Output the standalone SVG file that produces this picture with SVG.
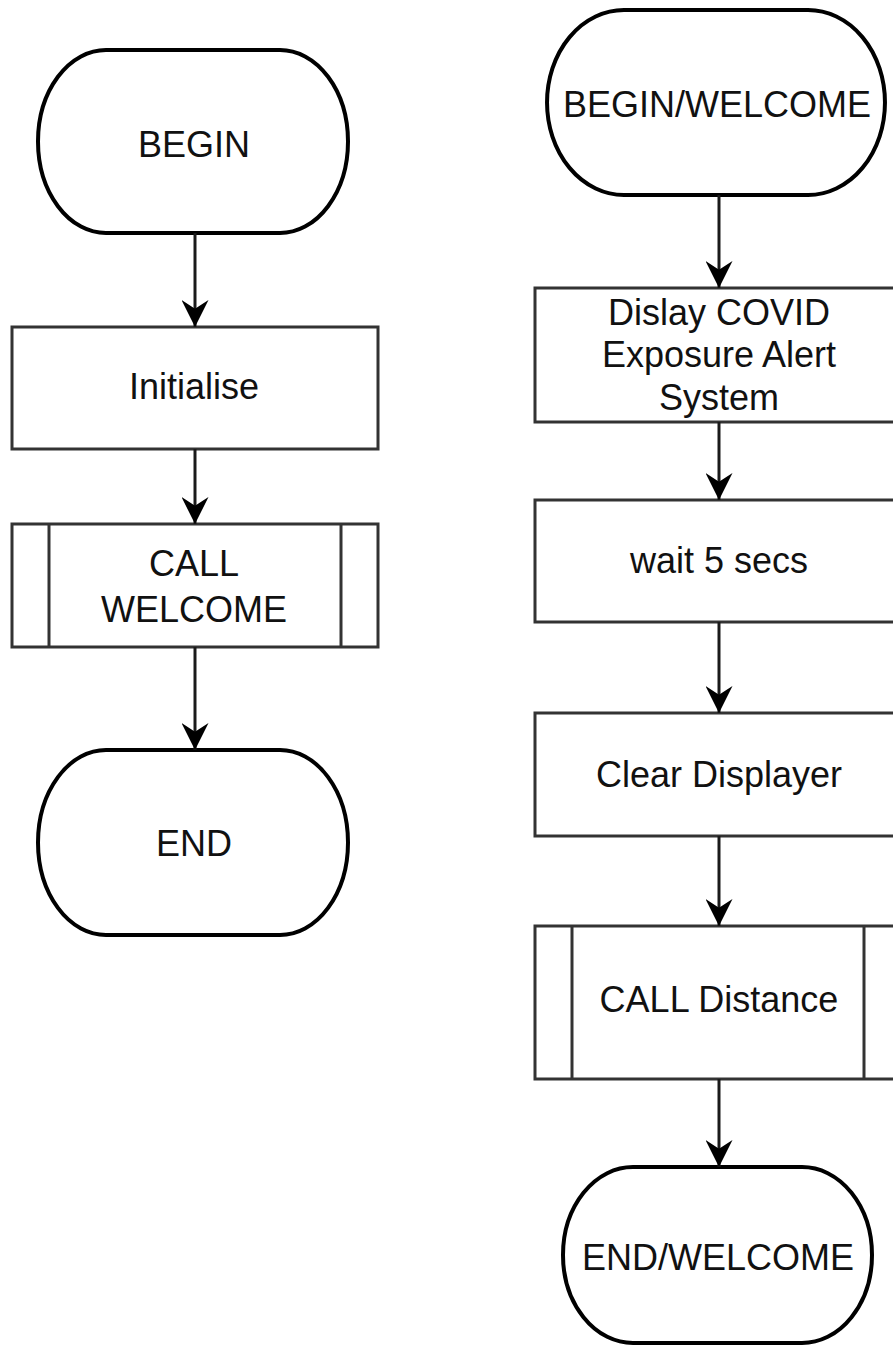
<svg xmlns="http://www.w3.org/2000/svg" width="893" height="1348" viewBox="0 0 893 1348">
  <style>
    .term { fill: #fff; stroke: #000; stroke-width: 4; }
    .box { fill: #fff; stroke: #333; stroke-width: 3; }
    .bar { stroke: #333; stroke-width: 3; }
    .lbl { font-family: "Liberation Sans", Arial, Helvetica, sans-serif; font-size: 36px; fill: #111; text-anchor: middle; }
    .flow { stroke: #1a1a1a; stroke-width: 3; fill: none; marker-end: url(#head); }
  </style>
  <defs>
    <marker id="head" markerUnits="userSpaceOnUse" viewBox="0 0 28 28" refX="28" refY="14" markerWidth="28" markerHeight="27" orient="auto">
      <path d="M0,0 L28,14 L0,28 L9,14 Z" fill="#000"/>
    </marker>
  </defs>

  <rect width="893" height="1348" fill="#fff"/>

  <!-- main program -->
  <g id="begin">
    <path class="term" d="M106,50 H280 A68,91.5 0 0 1 280,233 H106 A68,91.5 0 0 1 106,50 Z"/>
    <text class="lbl" x="194" y="157">BEGIN</text>
  </g>
  <g id="initialise">
    <rect class="box" x="12" y="327" width="366" height="122"/>
    <text class="lbl" x="194" y="399">Initialise</text>
  </g>
  <g id="call-welcome">
    <rect class="box" x="12" y="524" width="366" height="123"/>
    <line class="bar" x1="49" y1="524" x2="49" y2="647"/>
    <line class="bar" x1="341" y1="524" x2="341" y2="647"/>
    <text class="lbl" x="194" y="576">CALL</text>
    <text class="lbl" x="194" y="622">WELCOME</text>
  </g>
  <g id="end">
    <path class="term" d="M106,750 H280 A68,92.5 0 0 1 280,935 H106 A68,92.5 0 0 1 106,750 Z"/>
    <text class="lbl" x="194" y="856">END</text>
  </g>

  <!-- WELCOME subroutine -->
  <g id="begin-welcome">
    <path class="term" d="M624,10 H808 A77,92.5 0 0 1 808,195 H624 A77,92.5 0 0 1 624,10 Z"/>
    <text class="lbl" x="717" y="117">BEGIN/WELCOME</text>
  </g>
  <g id="display-title">
    <rect class="box" x="535" y="288" width="366" height="134"/>
    <text class="lbl" x="719" y="325">Dislay COVID</text>
    <text class="lbl" x="719" y="367">Exposure Alert</text>
    <text class="lbl" x="719" y="410">System</text>
  </g>
  <g id="wait">
    <rect class="box" x="535" y="500" width="366" height="122"/>
    <text class="lbl" x="719" y="573">wait 5 secs</text>
  </g>
  <g id="clear-display">
    <rect class="box" x="535" y="713" width="366" height="123"/>
    <text class="lbl" x="719" y="787">Clear Displayer</text>
  </g>
  <g id="call-distance">
    <rect class="box" x="535" y="926" width="366" height="153"/>
    <line class="bar" x1="572" y1="926" x2="572" y2="1079"/>
    <line class="bar" x1="864" y1="926" x2="864" y2="1079"/>
    <text class="lbl" x="719" y="1012">CALL Distance</text>
  </g>
  <g id="end-welcome">
    <path class="term" d="M633,1167 H802 A70,88 0 0 1 802,1343 H633 A70,88 0 0 1 633,1167 Z"/>
    <text class="lbl" x="718" y="1270">END/WELCOME</text>
  </g>

  <g id="connectors">
    <line class="flow" x1="195" y1="233" x2="195" y2="327"/>
    <line class="flow" x1="195" y1="449" x2="195" y2="524"/>
    <line class="flow" x1="195" y1="647" x2="195" y2="750"/>
    <line class="flow" x1="719" y1="195" x2="719" y2="288"/>
    <line class="flow" x1="719" y1="422" x2="719" y2="500"/>
    <line class="flow" x1="719" y1="622" x2="719" y2="713"/>
    <line class="flow" x1="719" y1="836" x2="719" y2="926"/>
    <line class="flow" x1="719" y1="1079" x2="719" y2="1167"/>
  </g>
</svg>
